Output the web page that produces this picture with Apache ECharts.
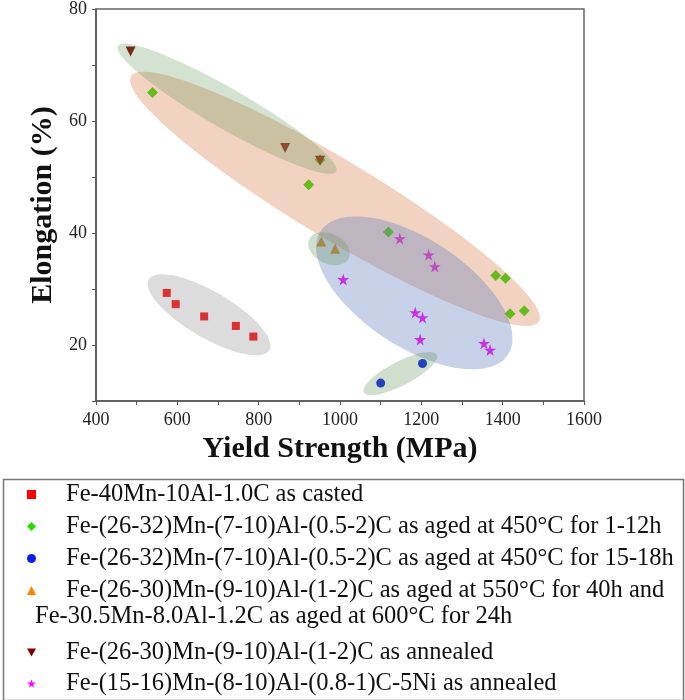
<!DOCTYPE html>
<html>
<head>
<meta charset="utf-8">
<script src="https://cdn.jsdelivr.net/npm/echarts@6/dist/echarts.min.js"></script>
<style>html,body{margin:0;padding:0;background:#fff;}#chart{width:685px;height:700px;}</style>
</head>
<body>
<div id="chart"></div>
<script>
// ---- data ----
const seriesNames = [
  'Fe-40Mn-10Al-1.0C as casted',
  'Fe-(26-32)Mn-(7-10)Al-(0.5-2)C as aged at 450°C for 1-12h',
  'Fe-(26-32)Mn-(7-10)Al-(0.5-2)C as aged at 450°C for 15-18h',
  'Fe-(26-30)Mn-(9-10)Al-(1-2)C as aged at 550°C for 40h and Fe-30.5Mn-8.0Al-1.2C as aged at 600°C for 24h',
  'Fe-(26-30)Mn-(9-10)Al-(1-2)C as annealed',
  'Fe-(15-16)Mn-(8-10)Al-(0.8-1)C-5Ni as annealed'
];
const castedYS = [574, 596, 666, 744, 787];
const castedEl = [29.3, 27.3, 25.1, 23.4, 21.5];
const aged12YS = [539, 951, 923, 1119, 1383, 1407, 1418, 1453];
const aged12El = [65.1, 53.1, 48.6, 40.2, 32.4, 31.9, 25.6, 26.1];
const aged18YS = [1100, 1203];
const aged18El = [13.2, 16.7];
const aged550YS = [954, 988];
const aged550El = [38.5, 37.2];
const annealedYS = [485, 865, 951];
const annealedEl = [72.4, 55.2, 52.9];
const niYS = [1147, 1218, 1233, 1008, 1185, 1203, 1197, 1354, 1369];
const niEl = [39.0, 36.1, 34.0, 31.7, 25.8, 24.9, 21.0, 20.3, 19.1];
// shaded group regions: centre, end of long axis (data units), short/long axis ratio
const regionCenters = [[987.7, 46.1], [722.1, 62.2], [677.9, 25.4], [1182.7, 29.3], [972.9, 37.2], [1148.3, 14.9]];
const regionTips = [[1489.3, 24.2], [990.4, 51.0], [826.1, 19.1], [1412.9, 18.25], [1021.6, 35.5], [1238.0, 18.25]];
const regionRatios = [0.165, 0.159, 0.33, 0.48, 0.68, 0.29];
const xTicks = [400, 600, 800, 1000, 1200, 1400, 1600];
const yTicks = [20, 40, 60, 80];
</script>
<script>
const regionColors = ['rgba(220,130,80,0.36)', 'rgba(100,150,90,0.28)', 'rgba(150,150,150,0.33)',
  'rgba(100,130,190,0.36)', 'rgba(100,150,90,0.30)', 'rgba(100,150,90,0.30)'];
const markerColors = ['#ff0000', '#22dd00', '#0a1ee8', '#ff8000', '#800000', '#ff00ff'];
const starPath = 'path://M50,0 L61,35 L98,35 L68,57 L79,91 L50,70 L21,91 L32,57 L2,35 L39,35 Z';
const downTri = 'path://M0,0 L10,0 L5,9 Z';
const symbols = ['rect', 'diamond', 'circle', 'triangle', 'triangle', starPath];
const legendIcons = ['rect', 'diamond', 'circle', 'triangle', downTri, starPath];
const rotates = [0, 0, 0, 0, 180, 0];
const sizes = [8, 11, 9, 10, 10, 12];
const xs = [castedYS, aged12YS, aged18YS, aged550YS, annealedYS, niYS];
const ys = [castedEl, aged12El, aged18El, aged550El, annealedEl, niEl];
const serif = '"Liberation Serif", "Times New Roman", serif';

const scatterSeries = seriesNames.map((n, i) => ({
  name: n, type: 'scatter', z: 2,
  symbol: symbols[i], symbolRotate: rotates[i], symbolSize: sizes[i],
  itemStyle: { color: markerColors[i], opacity: 1 },
  data: xs[i].map((v, k) => [v, ys[i][k]])
}));

const regionSeries = {
  type: 'custom', z: 3, silent: true,
  data: regionCenters.map((c, i) => [c[0], c[1], regionTips[i][0], regionTips[i][1], regionRatios[i]]),
  encode: { x: [0, 2], y: [1, 3] },
  renderItem: function (params, api) {
    const c = api.coord([api.value(0), api.value(1)]);
    const t = api.coord([api.value(2), api.value(3)]);
    const dx = t[0] - c[0], dy = t[1] - c[1];
    const a = Math.sqrt(dx * dx + dy * dy);
    const b = a * api.value(4);
    const th = Math.atan2(dy, dx);
    const pts = [];
    for (let k = 0; k < 96; k++) {
      const u = k / 96 * Math.PI * 2;
      const ex = a * Math.cos(u), ey = b * Math.sin(u);
      pts.push([c[0] + ex * Math.cos(th) - ey * Math.sin(th), c[1] + ex * Math.sin(th) + ey * Math.cos(th)]);
    }
    return { type: 'polygon', shape: { points: pts }, style: { fill: regionColors[params.dataIndex], stroke: null } };
  }
};

const legendCommon = {
  orient: 'vertical', left: 27, padding: 0,
  itemWidth: 9, itemHeight: 9,
  textStyle: { fontFamily: serif, fontSize: 24.5, color: '#111', lineHeight: 24, padding: [0, 0, 0, 25] },
  selectedMode: false
};
const legendItems = seriesNames.map((n, i) => ({ name: n, icon: legendIcons[i] }));

const chart = echarts.init(document.getElementById('chart'), null, { renderer: 'canvas' });
chart.setOption({
  animation: false,
  backgroundColor: '#fff',
  grid: { left: 96, right: 101, top: 8, bottom: 299, show: true, borderColor: '#666', borderWidth: 1.5, backgroundColor: 'transparent' },
  xAxis: {
    type: 'value', min: 400, max: 1600, interval: 100,
    name: 'Yield Strength (MPa)', nameLocation: 'middle', nameGap: 33,
    nameTextStyle: { fontFamily: serif, fontSize: 30, fontWeight: 'bold', color: '#111' },
    axisLine: { lineStyle: { color: '#555', width: 1.5 } },
    axisTick: { length: 4, lineStyle: { color: '#555' } },
    axisLabel: { fontFamily: serif, fontSize: 18, color: '#222', margin: 10,
      formatter: v => xTicks.indexOf(v) >= 0 ? String(v) : '' },
    splitLine: { show: false }
  },
  yAxis: {
    type: 'value', min: 10, max: 80, interval: 10,
    name: 'Elongation (%)', nameLocation: 'middle', nameGap: 36, nameRotate: 90,
    nameTextStyle: { fontFamily: serif, fontSize: 30, fontWeight: 'bold', color: '#111' },
    axisLine: { lineStyle: { color: '#555', width: 1.5 } },
    axisTick: { length: 4, lineStyle: { color: '#555' } },
    axisLabel: { fontFamily: serif, fontSize: 18, color: '#222', margin: 9,
      formatter: v => yTicks.indexOf(v) >= 0 ? String(v) : '' },
    splitLine: { show: false }
  },
  legend: [
    Object.assign({}, legendCommon, { top: 482, itemGap: 7, data: legendItems.slice(0, 4),
      formatter: n => n.indexOf(' and ') > 0 ? n.slice(0, n.indexOf(' and ') + 4) : n }),
    Object.assign({}, legendCommon, { top: 640, itemGap: 6, data: legendItems.slice(4) })
  ],
  graphic: [
    { type: 'rect', left: 1, top: 477, shape: { width: 680, height: 221 },
      style: { fill: 'none', stroke: '#777', lineWidth: 1.5 }, silent: true },
    { type: 'text', left: 35, top: 604,
      style: { text: seriesNames[3].slice(seriesNames[3].indexOf(' and ') + 5), font: '24.5px ' + serif, fill: '#111' } }
  ],
  series: scatterSeries.concat([regionSeries])
});
</script>
</body>
</html>
